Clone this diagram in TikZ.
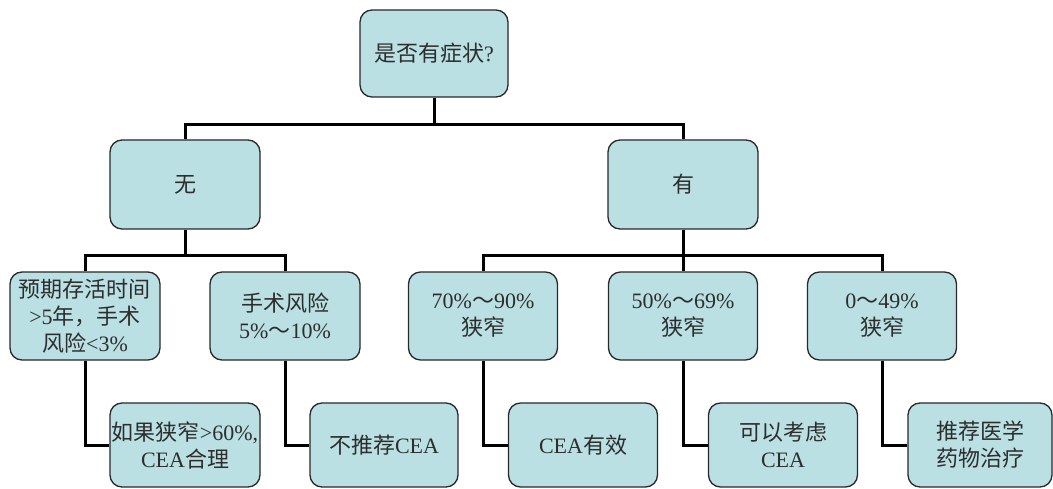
\documentclass[tikz,border=0pt]{standalone}
\usepackage{fontspec}
\setmainfont{Liberation Serif}
\newfontfamily\cjk{Noto Sans CJK SC}
\newcommand{\zh}[1]{{\cjk #1}}
\definecolor{boxfill}{RGB}{186,224,228}
\definecolor{boxdraw}{RGB}{40,40,40}
\definecolor{txt}{RGB}{45,45,45}
\tikzset{
  tbox/.style={draw=boxdraw, line width=1.3pt, fill=boxfill, rounded corners=12pt,
    minimum width=150pt, minimum height=88pt, inner sep=0pt, align=center,
    text=txt, font=\fontsize{22}{27}\selectfont},
  link/.style={line width=3pt, black}
}
\begin{document}
\begin{tikzpicture}[x=1pt,y=-1pt]
\useasboundingbox (0,0) rectangle (1053,489);
% level 1
\node[tbox, minimum width=148pt, minimum height=87pt] (q) at (434,53.5) {\zh{是否有症状}?};
% level 2
\node[tbox, minimum height=89pt] (no) at (185,184.5) {\zh{无}};
\node[tbox, minimum height=89pt] (yes) at (683,184.5) {\zh{有}};
% level 3
\node[tbox] (a1) at (85,316) {\zh{预期存活时间}\\>5\zh{年，手术}\\\zh{风险}<3\%};
\node[tbox] (a2) at (285,316) {\zh{手术风险}\\5\%\zh{～}10\%};
\node[tbox, minimum width=149pt] (b1) at (483,316) {70\%\zh{～}90\%\\\zh{狭窄}};
\node[tbox, minimum width=149pt] (b2) at (683,316) {50\%\zh{～}69\%\\\zh{狭窄}};
\node[tbox, minimum width=149pt] (b3) at (882,316) {0\zh{～}49\%\\\zh{狭窄}};
% level 4
\node[tbox, minimum height=84pt] (c1) at (185,445) {\zh{如果狭窄}>60\%,\\CEA\zh{合理}};
\node[tbox, minimum height=84pt, minimum width=148pt] (c2) at (384,445) {\zh{不推荐}CEA};
\node[tbox, minimum height=84pt, minimum width=149pt] (c3) at (583,445) {CEA\zh{有效}};
\node[tbox, minimum height=84pt, minimum width=149pt] (c4) at (783,445) {\zh{可以考虑}\\CEA};
\node[tbox, minimum height=84pt, minimum width=144pt] (c5) at (980,445) {\zh{推荐医学}\\\zh{药物治疗}};
% connectors
\draw[link] (q.south) -- ++(0,27) -| (no.north);
\draw[link] (q.south) -- ++(0,27) -| (yes.north);
\draw[link] (no.south) -- ++(0,26) -| (a1.north);
\draw[link] (no.south) -- ++(0,26) -| (a2.north);
\draw[link] (yes.south) -- ++(0,26) -| (b1.north);
\draw[link] (yes.south) -- ++(0,26) -| (b2.north);
\draw[link] (yes.south) -- ++(0,26) -| (b3.north);
\draw[link] (a1.south) |- (c1.west);
\draw[link] (a2.south) |- (c2.west);
\draw[link] (b1.south) |- (c3.west);
\draw[link] (b2.south) |- (c4.west);
\draw[link] (b3.south) |- (c5.west);
\end{tikzpicture}
\end{document}
